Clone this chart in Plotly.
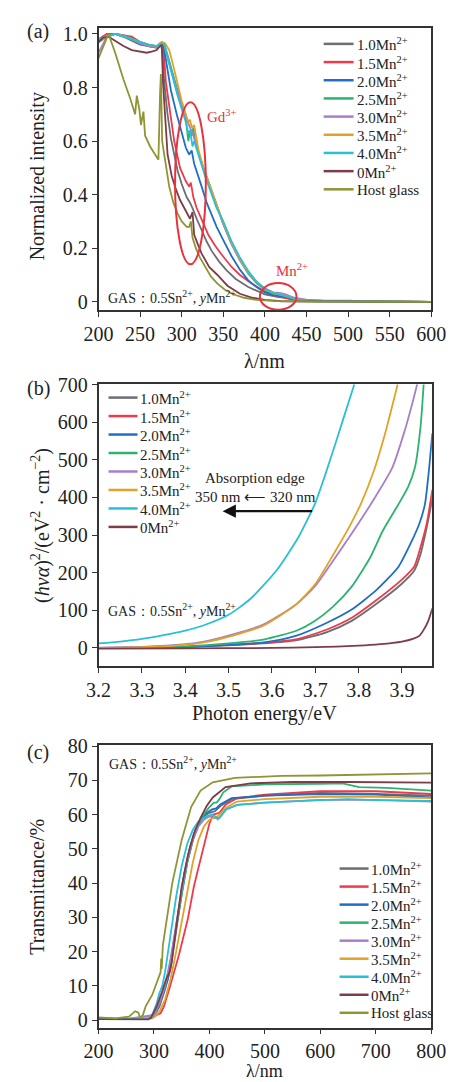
import plotly.graph_objects as go

# ---------------- DATA ----------------
NAMES = ["1.0Mn<sup>2+</sup>", "1.5Mn<sup>2+</sup>", "2.0Mn<sup>2+</sup>", "2.5Mn<sup>2+</sup>",
         "3.0Mn<sup>2+</sup>", "3.5Mn<sup>2+</sup>", "4.0Mn<sup>2+</sup>", "0Mn<sup>2+</sup>", "Host glass"]
COLORS = ["#6b6e73", "#ee3a4a", "#1f6fc5", "#2db36f", "#a77fc9", "#e2a227", "#29bfd6", "#7d3c48", "#8f9534"]

# (a) normalized intensity vs wavelength (nm)
A_X_10 = [200,210,220,230,240,250,260,270,275,277,279,283,287,291,295,300,306,310,313,318,324,330,336,345,354,365,380,400,415,420,430,450,600]
A_Y_10 = [0.97,0.99,1.0,0.99,0.975,0.96,0.955,0.948,0.96,0.93,0.82,0.7,0.61,0.55,0.49,0.44,0.39,0.37,0.35,0.31,0.265,0.225,0.19,0.15,0.117,0.085,0.055,0.028,0.018,0.016,0.01,0.003,0.0]
A_X_15 = [200,210,220,230,240,250,260,270,275,278,281,286,291,298,305,309,311,314,318,325,332,340,347,360,370,384,400,415,420,430,450,600]
A_Y_15 = [0.98,1.0,1.0,0.995,0.99,0.97,0.96,0.95,0.965,0.95,0.82,0.7,0.6,0.5,0.45,0.43,0.445,0.39,0.35,0.3,0.25,0.21,0.18,0.13,0.1,0.068,0.038,0.02,0.018,0.01,0.003,0.0]
A_X_20 = [200,210,220,230,240,250,260,270,275,278,282,287,294,300,305,309,312,315,320,324,330,335,342,350,360,370,380,390,400,410,418,425,440,460,600]
A_Y_20 = [0.97,0.99,1.0,0.99,0.98,0.965,0.955,0.95,0.965,0.96,0.88,0.79,0.7,0.63,0.575,0.55,0.565,0.515,0.47,0.43,0.37,0.33,0.28,0.23,0.17,0.12,0.08,0.055,0.035,0.025,0.022,0.018,0.006,0.002,0.0]
A_X_25 = [200,210,220,230,240,250,260,270,276,279,284,290,295,300,305,308,310,312,314,316,320,325,332,340,350,360,370,380,390,400,410,418,425,435,450,600]
A_Y_25 = [0.98,0.99,1.0,0.995,0.985,0.97,0.96,0.955,0.97,0.965,0.91,0.84,0.78,0.73,0.68,0.6,0.64,0.62,0.65,0.6,0.56,0.51,0.45,0.375,0.29,0.215,0.155,0.105,0.07,0.045,0.03,0.027,0.022,0.012,0.004,0.0]
A_X_30 = [200,205,210,220,230,240,250,260,270,276,279,284,290,295,300,306,310,313,316,320,326,332,340,350,360,370,380,390,400,410,418,425,435,450,470,505]
A_Y_30 = [0.93,0.96,0.99,1.0,0.995,0.98,0.965,0.955,0.95,0.965,0.96,0.9,0.83,0.78,0.73,0.68,0.65,0.63,0.6,0.56,0.5,0.45,0.38,0.29,0.215,0.155,0.11,0.075,0.05,0.035,0.033,0.028,0.015,0.008,0.005,0.004]
A_X_35 = [200,210,220,230,240,250,260,270,276,280,285,290,295,300,305,308,310,312,315,320,326,332,340,350,360,370,380,390,400,410,418,425,435,450,600]
A_Y_35 = [0.97,0.99,1.0,0.99,0.98,0.97,0.96,0.955,0.97,0.965,0.94,0.88,0.81,0.75,0.7,0.67,0.68,0.65,0.66,0.57,0.5,0.45,0.38,0.295,0.22,0.16,0.11,0.075,0.048,0.032,0.028,0.022,0.012,0.004,0.0]
A_X_40 = [200,210,220,230,240,250,260,270,276,279,284,290,295,300,305,308,310,313,315,318,322,328,335,342,350,360,370,380,390,400,410,418,425,435,450,600]
A_Y_40 = [0.98,0.99,1.0,0.99,0.98,0.97,0.96,0.955,0.965,0.96,0.9,0.83,0.77,0.72,0.67,0.63,0.64,0.58,0.6,0.57,0.53,0.47,0.41,0.35,0.3,0.225,0.165,0.115,0.075,0.048,0.032,0.028,0.022,0.012,0.004,0.0]
A_X_00 = [200,205,212,220,230,240,250,258,265,270,274,276,277.5,280,283,288,292.5,298,305,308,310,313,315,320,324,333,343,355,370,385,400,420,600]
A_Y_00 = [0.97,0.985,0.99,0.975,0.955,0.94,0.935,0.93,0.935,0.94,0.955,0.96,0.82,0.68,0.55,0.47,0.425,0.38,0.34,0.32,0.31,0.335,0.25,0.21,0.18,0.13,0.1,0.06,0.03,0.015,0.007,0.002,0.0]
A_X_HG = [200,205,212,220,230,238,244,246,249,251,254,256,262,268,272,274,275,276.5,279,285,290,295,300,306,309,311,313,317,322,328,335,343,352,362,375,390,410,450,600]
A_Y_HG = [0.91,0.95,1.0,0.93,0.83,0.76,0.7,0.77,0.72,0.66,0.71,0.62,0.58,0.55,0.53,0.78,0.85,0.6,0.55,0.43,0.37,0.33,0.3,0.28,0.28,0.3,0.24,0.2,0.165,0.13,0.095,0.068,0.045,0.028,0.015,0.007,0.003,0.001,0.0]

# (b) (h nu alpha)^2 vs photon energy (eV)
B_X_10 = [3.2,3.3,3.4,3.5,3.58,3.655,3.727,3.784,3.842,3.899,3.928,3.943,3.957,3.97]
B_Y_10 = [0,1,3,7,12,20,42,72,118,170,205,250,320,395]
B_X_15 = [3.2,3.3,3.4,3.5,3.58,3.655,3.727,3.784,3.842,3.899,3.928,3.943,3.957,3.97]
B_Y_15 = [0,1,3,8,14,23,49,80,128,181,216,269,330,420]
B_X_20 = [3.2,3.3,3.4,3.5,3.583,3.655,3.727,3.784,3.842,3.892,3.925,3.94,3.953,3.962,3.97]
B_Y_20 = [0,1,3,8,15,32,67,102,155,216,290,330,382,470,570]
B_X_25 = [3.2,3.3,3.4,3.5,3.583,3.655,3.698,3.741,3.784,3.827,3.856,3.892,3.915,3.93,3.943,3.95]
B_Y_25 = [0,1,4,12,23,45,71,110,163,241,312,382,430,480,590,700]
B_X_30 = [3.2,3.3,3.4,3.44,3.51,3.58,3.655,3.70,3.74,3.777,3.827,3.878,3.907,3.925,3.935]
B_Y_30 = [1,3,10,16,36,62,115,165,230,292,380,480,580,655,700]
B_X_35 = [3.2,3.3,3.4,3.44,3.51,3.58,3.655,3.70,3.74,3.78,3.806,3.835,3.86,3.89]
B_Y_35 = [0,2,8,14,33,59,115,170,245,325,385,470,565,700]
B_X_40 = [3.2,3.25,3.3,3.35,3.4,3.44,3.5,3.55,3.61,3.66,3.70,3.72,3.74,3.765,3.79]
B_Y_40 = [12,17,24,34,46,59,88,130,205,292,385,450,520,610,700]
B_X_00 = [3.2,3.4,3.6,3.7,3.8,3.85,3.9,3.925,3.94,3.95,3.96,3.97]
B_Y_00 = [-2,-1,0,2,6,10,17,24,32,48,70,105]

# (c) transmittance (%) vs wavelength (nm)
C_X_10 = [200,250,300,310,320,330,340,350,360,370,380,390,400,410,420,440,500,600,700,800]
C_Y_10 = [0.5,0.3,1,4,9,15,26,37,46,52.5,57,59.5,60.5,61,62.5,64.5,65.5,66.3,66,65.5]
C_X_15 = [200,250,298,305,312,318,328,345,361,372,378,390,400,407,412,418,430,450,500,600,700,800]
C_Y_15 = [0.5,0.3,0.7,1.5,2,4,9.3,19,29.5,39,43,51,57.4,60,60.2,60.5,63,64.8,65.8,66.8,66.8,66]
C_X_20 = [200,250,295,305,315,325,335,345,355,365,375,385,395,405,412,420,440,500,600,700,800]
C_Y_20 = [0.5,0.3,0.5,3,7,12,22,33,43,50.5,55.5,58.5,60.5,61.5,61.8,63,64.8,65.5,66,65.8,65]
C_X_25 = [200,250,300,310,320,330,340,350,360,370,380,390,400,408,413,418,425,440,500,600,640,670,720,800]
C_Y_25 = [0.5,0.3,1,5,10,17,27,37,46,52.5,57,60,62.2,63.5,63.5,64.5,66.5,68.2,68.8,69,69.1,68,67.8,67]
C_X_30 = [200,250,300,310,320,330,340,350,360,370,380,390,400,410,418,430,450,500,600,700,800]
C_Y_30 = [0.5,0.3,1.5,5,10,18,28,38,46.5,52.5,56.5,58.5,59.5,59,59,61.5,62.8,63.5,64.3,64.3,63.8]
C_X_35 = [200,250,300,310,320,330,340,350,360,370,380,390,400,408,415,430,450,500,600,700,800]
C_Y_35 = [0.5,0.3,0.8,2.5,6,12,20,29,38,46,52.5,56.5,58.5,59,59.5,62,63.8,64.5,65.2,65.2,64.8]
C_X_40 = [200,250,290,298,305,310,315,320,330,340,350,360,370,380,395,405,410,415,420,430,450,500,600,650,700,800]
C_Y_40 = [0.5,0.3,0.3,2,5,8,10,14,25,36,45,51.5,55.5,58,59.5,60,59.5,58.6,59.5,61.5,62.8,63.5,64.2,64.5,64.2,64]
C_X_00 = [200,250,290,295,305,315,322,328,332,340,350,361,372,384,395,406,429,474,550,650,800]
C_Y_00 = [0.3,0.3,0.2,0.8,4,8.5,12,14,17,27,39,48,54.5,59,62.5,65,68,69.1,69.5,69.5,69.3]
C_X_HG = [200,230,255,266,272,275,280,285,297,308,312,313,314,316,325,333,350,367,384,406,446,530,600,700,800]
C_Y_HG = [0.8,0.5,1,2.6,2.2,0.6,1.5,4,7.4,12.2,14,18,15,21.8,31.4,40,52.6,62.2,67,69.4,70.7,71.3,71.4,71.6,72]

A_X = [A_X_10, A_X_15, A_X_20, A_X_25, A_X_30, A_X_35, A_X_40, A_X_00, A_X_HG]
A_Y = [A_Y_10, A_Y_15, A_Y_20, A_Y_25, A_Y_30, A_Y_35, A_Y_40, A_Y_00, A_Y_HG]
B_X = [B_X_10, B_X_15, B_X_20, B_X_25, B_X_30, B_X_35, B_X_40, B_X_00]
B_Y = [B_Y_10, B_Y_15, B_Y_20, B_Y_25, B_Y_30, B_Y_35, B_Y_40, B_Y_00]
C_X = [C_X_10, C_X_15, C_X_20, C_X_25, C_X_30, C_X_35, C_X_40, C_X_00, C_X_HG]
C_Y = [C_Y_10, C_Y_15, C_Y_20, C_Y_25, C_Y_30, C_Y_35, C_Y_40, C_Y_00, C_Y_HG]

A_XTICKS = [200, 250, 300, 350, 400, 450, 500, 550, 600]
A_YTICKS = [0, 0.2, 0.4, 0.6, 0.8, 1.0]
A_YTEXT = ["0", "0.2", "0.4", "0.6", "0.8", "1.0"]
B_XTICKS = [3.2, 3.3, 3.4, 3.5, 3.6, 3.7, 3.8, 3.9]
B_YTICKS = [0, 100, 200, 300, 400, 500, 600, 700]
C_XTICKS = [200, 300, 400, 500, 600, 700, 800]
C_YTICKS = [0, 10, 20, 30, 40, 50, 60, 70, 80]

# ---------------- FIGURE ----------------
W, H = 464, 1082
SERIF = "Liberation Serif"
def pxx(x): return x / W
def pyy(y): return 1 - y / H

fig = go.Figure()
for i in range(9):
    fig.add_trace(go.Scatter(x=A_X[i], y=A_Y[i], mode="lines", name=NAMES[i],
                             line=dict(color=COLORS[i], width=1.8), xaxis="x", yaxis="y"))
for i in range(8):
    fig.add_trace(go.Scatter(x=B_X[i], y=B_Y[i], mode="lines", name=NAMES[i],
                             line=dict(color=COLORS[i], width=1.8, shape="spline", smoothing=0.6),
                             xaxis="x2", yaxis="y2"))
for i in range(9):
    fig.add_trace(go.Scatter(x=C_X[i], y=C_Y[i], mode="lines", name=NAMES[i],
                             line=dict(color=COLORS[i], width=1.8), xaxis="x3", yaxis="y3"))

axis_style = dict(showline=True, mirror=True, linecolor="#333", linewidth=1.5,
                  ticks="outside", ticklen=5, tickwidth=1.3, tickcolor="#333",
                  showgrid=False, zeroline=False,
                  tickfont=dict(family=SERIF, size=20, color="#222"))

fig.update_layout(
    width=W, height=H, margin=dict(l=0, r=0, t=0, b=0),
    paper_bgcolor="white", plot_bgcolor="white", showlegend=False,
    xaxis=dict(domain=[pxx(89.3), pxx(445)], range=[200, 600], anchor="y",
               tickvals=A_XTICKS, **axis_style),
    yaxis=dict(domain=[pyy(304), pyy(18.3)], range=[-0.032, 1.022], anchor="x",
               tickvals=A_YTICKS, ticktext=A_YTEXT, **axis_style),
    xaxis2=dict(domain=[pxx(89.3), pxx(445.7)], range=[3.2, 3.969], anchor="y2",
                tickvals=B_XTICKS, ticktext=[f"{v:.1f}" for v in B_XTICKS], **axis_style),
    yaxis2=dict(domain=[pyy(664), pyy(378.3)], range=[-48, 702], anchor="x2",
                tickvals=B_YTICKS, **axis_style),
    xaxis3=dict(domain=[pxx(89.3), pxx(445)], range=[200, 800], anchor="y3",
                tickvals=C_XTICKS, **axis_style),
    yaxis3=dict(domain=[pyy(1030), pyy(744.3)], range=[-2.2, 80.2], anchor="x3",
                tickvals=C_YTICKS, **axis_style),
)

TF = dict(family=SERIF, size=20, color="#222")
SF = dict(family=SERIF, size=14, color="#222")
LF = dict(family=SERIF, size=15, color="#222")
GAS = "GAS：0.5Sn<sup>2+</sup>, <i>y</i>Mn<sup>2+</sup>"
ann = [
    dict(text="(a)", x=pxx(25), y=pyy(21.7), font=TF),
    dict(text="(b)", x=pxx(25), y=pyy(383), font=TF),
    dict(text="(c)", x=pxx(25), y=pyy(752), font=TF),
    dict(text="Normalized intensity", x=pxx(25), y=pyy(168), textangle=-90, font=TF),
    dict(text="(<i>hνα</i>)<sup>2</sup>/(eV<sup>2</sup> · cm<sup>−2</sup>)", x=pxx(28), y=pyy(522), textangle=-90, font=TF),
    dict(text="Transmittance/%", x=pxx(24), y=pyy(887), textangle=-90, font=TF),
    dict(text="λ/nm", x=pxx(267), y=pyy(355), font=TF),
    dict(text="Photon energy/eV", x=pxx(267), y=pyy(712), font=TF),
    dict(text="λ/nm", x=pxx(267), y=pyy(1073.5), font=dict(family=SERIF, size=18, color="#222")),
    dict(text=GAS, x=pxx(97), y=pyy(290), xanchor="left", font=SF),
    dict(text=GAS, x=pxx(97), y=pyy(607), xanchor="left", font=SF),
    dict(text=GAS, x=pxx(98), y=pyy(762), xanchor="left", font=SF),
    dict(text="Gd<sup>3+</sup>", x=pxx(221), y=pyy(107), font=dict(family=SERIF, size=15, color="#e8323c")),
    dict(text="Mn<sup>2+</sup>", x=pxx(296), y=pyy(263), font=dict(family=SERIF, size=15, color="#e8323c")),
    dict(text="Absorption edge", x=pxx(257), y=pyy(474), font=LF),
    dict(text="350 nm ⟵ 320 nm", x=pxx(257), y=pyy(493), font=LF),
]

# hand-placed legends (line sample + label) matching the reference layout
LEGENDS = [
    dict(x0=330, x1=362, y0=34.3, dy=18.4, n=9),
    dict(x0=100, x1=131, y0=392.3, dy=18.7, n=8),
    dict(x0=347, x1=378, y0=869.0, dy=18.25, n=9),
]
for L in LEGENDS:
    for i in range(L["n"]):
        yy = L["y0"] + i * L["dy"]
        fig.add_shape(type="line", xref="paper", yref="paper",
                      x0=pxx(L["x0"]), x1=pxx(L["x1"]), y0=pyy(yy), y1=pyy(yy),
                      line=dict(color=COLORS[i], width=2.5))
        ann.append(dict(text=NAMES[i], x=pxx(L["x1"] + 1), y=pyy(yy + 0.5), xanchor="left", font=LF))

for a in ann:
    a.setdefault("xref", "paper"); a.setdefault("yref", "paper")
    a.setdefault("xanchor", "center"); a.setdefault("yanchor", "middle")
    a["showarrow"] = False
    fig.add_annotation(**a)

fig.add_annotation(x=pxx(222), y=pyy(507.3), xref="paper", yref="paper", text="",
                   showarrow=True, ax=91, ay=0, arrowhead=2, arrowsize=1.2, arrowwidth=2.2, arrowcolor="#111")

fig.add_shape(type="circle", xref="x", yref="y", x0=292, x1=329, y0=0.14, y1=0.745,
              line=dict(color="#e8323c", width=2))
fig.add_shape(type="circle", xref="x", yref="y", x0=394, x1=438, y0=-0.03, y1=0.07,
              line=dict(color="#e8323c", width=2))

fig.write_html("out.html")
